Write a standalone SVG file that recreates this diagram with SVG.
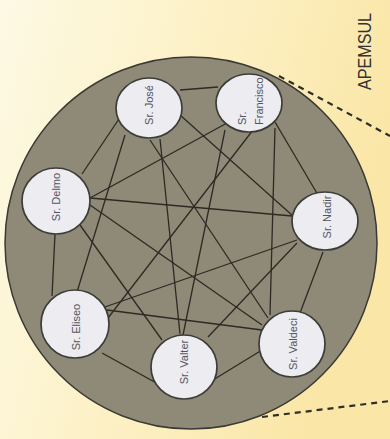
<svg xmlns="http://www.w3.org/2000/svg" width="390" height="439" viewBox="0 0 390 439">
<defs>
<linearGradient id="bg" x1="0" y1="0" x2="1" y2="0.3">
<stop offset="0" stop-color="#fdf9e4"/>
<stop offset="0.6" stop-color="#fcefc0"/>
<stop offset="1" stop-color="#fae6a6"/>
</linearGradient>
<style>
.edge{stroke:#2b2a24;stroke-width:1.3;fill:none}
.node{fill:#ececf1;stroke:#3c3c38;stroke-width:1.7}
.lbl{font-family:"Liberation Sans",Arial,sans-serif;font-size:11px;fill:#55555f}
.dash{stroke:#2e2e2a;stroke-width:2.2;stroke-dasharray:6 5;fill:none}
</style>
</defs>
<rect x="0" y="0" width="390" height="439" fill="url(#bg)"/>
<g id="frame">
<path class="dash" d="M279,76 L390,136"/>
<path class="dash" d="M262,417 L390,401"/>
<circle cx="191" cy="243" r="186" fill="#8f8a77" stroke="#3a3932" stroke-width="1.5"/>
<text x="371" y="90" transform="rotate(-90 371 90)" font-family="'Liberation Sans',Arial,sans-serif" font-size="18" fill="#333" textLength="77" lengthAdjust="spacingAndGlyphs">APEMSUL</text>
</g>
<g id="connectors">
<line class="edge" x1="180" y1="90" x2="218" y2="87"/>
<line class="edge" x1="125" y1="110" x2="82" y2="174"/>
<line class="edge" x1="125" y1="135" x2="77" y2="292"/>
<line class="edge" x1="180" y1="115" x2="293" y2="216"/>
<line class="edge" x1="150" y1="140" x2="268" y2="318"/>
<line class="edge" x1="160" y1="139" x2="180" y2="334"/>
<line class="edge" x1="227" y1="123" x2="90" y2="198"/>
<line class="edge" x1="275" y1="122" x2="318" y2="195"/>
<line class="edge" x1="253" y1="130" x2="108" y2="318"/>
<line class="edge" x1="225" y1="130" x2="183" y2="335"/>
<line class="edge" x1="275" y1="128" x2="270" y2="315"/>
<line class="edge" x1="90" y1="198" x2="292" y2="216"/>
<line class="edge" x1="55" y1="234" x2="52" y2="296"/>
<line class="edge" x1="80" y1="225" x2="162" y2="340"/>
<line class="edge" x1="90" y1="205" x2="262" y2="325"/>
<line class="edge" x1="297" y1="240" x2="102" y2="308"/>
<line class="edge" x1="297" y1="243" x2="208" y2="337"/>
<line class="edge" x1="323" y1="252" x2="300" y2="313"/>
<line class="edge" x1="102" y1="353" x2="160" y2="385"/>
<line class="edge" x1="107" y1="310" x2="262" y2="330"/>
<line class="edge" x1="213" y1="380" x2="262" y2="350"/>
</g>
<g id="n-jose">
<ellipse class="node" cx="149" cy="108" rx="33" ry="30"/>
<text class="lbl" x="153" y="105" text-anchor="middle" transform="rotate(-90 153 105)">Sr. José</text>
</g>
<g id="n-francisco">
<ellipse class="node" cx="249" cy="103" rx="33" ry="29"/>
<text class="lbl" x="246" y="125" transform="rotate(-90 246 125)">Sr.</text>
<text class="lbl" x="263" y="125" transform="rotate(-90 263 125)">Francisco</text>
</g>
<g id="n-delmo">
<ellipse class="node" cx="56" cy="201" rx="34" ry="33"/>
<text class="lbl" x="60" y="197" text-anchor="middle" transform="rotate(-90 60 197)">Sr. Delmo</text>
</g>
<g id="n-nadir">
<ellipse class="node" cx="325" cy="221" rx="33" ry="29"/>
<text class="lbl" x="331" y="217" text-anchor="middle" transform="rotate(-90 331 217)">Sr. Nadir</text>
</g>
<g id="n-eliseo">
<ellipse class="node" cx="75" cy="324" rx="34" ry="34"/>
<text class="lbl" x="80" y="327" text-anchor="middle" transform="rotate(-90 80 327)">Sr. Eliseo</text>
</g>
<g id="n-valter">
<ellipse class="node" cx="184" cy="367" rx="33" ry="32"/>
<text class="lbl" x="188" y="362" text-anchor="middle" transform="rotate(-90 188 362)">Sr. Valter</text>
</g>
<g id="n-valdeci">
<ellipse class="node" cx="292" cy="344" rx="33" ry="33"/>
<text class="lbl" x="297" y="344" text-anchor="middle" transform="rotate(-90 297 344)">Sr. Valdeci</text>
</g>
</svg>
